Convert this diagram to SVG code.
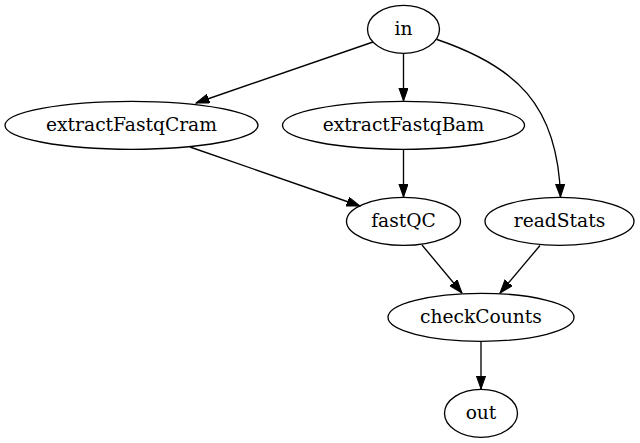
<svg xmlns="http://www.w3.org/2000/svg" width="640" height="443" viewBox="0 0 640 443">
<style>
.node ellipse{fill:none;stroke:#000;stroke-width:1.33}
.node text{font-family:"DejaVu Serif",serif;font-size:18.67px;text-anchor:middle;fill:#000}
.edge{fill:none;stroke:#000;stroke-width:1.33;marker-end:url(#ah)}
</style>
<defs>
<marker id="ah" markerUnits="userSpaceOnUse" markerWidth="14" markerHeight="10" refX="13.3" refY="4.7" orient="auto">
<path d="M0,0 L13.3,4.7 L0,9.4 z" fill="#000" stroke="#000" stroke-width="1"/>
</marker>
</defs>
<rect width="640" height="443" fill="#fff"/>
<g id="edges">
<path class="edge" d="M373,42 L196,103"/>
<path class="edge" d="M403.5,53.3 L403.5,101"/>
<path class="edge" d="M437,39.5 C515,66 558,104 560.5,197"/>
<path class="edge" d="M190,147 L360,206"/>
<path class="edge" d="M403.5,149.3 L403.5,197"/>
<path class="edge" d="M422,245 L462,293"/>
<path class="edge" d="M540,245.5 L500,293"/>
<path class="edge" d="M481,341.3 L481,389"/>
</g>
<g id="in" class="node"><ellipse cx="403.5" cy="29.3" rx="36" ry="24"/><text x="403.5" y="34.5">in</text></g>
<g id="extractFastqCram" class="node"><ellipse cx="131.5" cy="125.3" rx="126.5" ry="24"/><text x="131.5" y="130.5">extractFastqCram</text></g>
<g id="extractFastqBam" class="node"><ellipse cx="403.5" cy="125.3" rx="121" ry="24"/><text x="403.5" y="130.5">extractFastqBam</text></g>
<g id="fastQC" class="node"><ellipse cx="403.5" cy="221.3" rx="57" ry="24"/><text x="403.5" y="226.5">fastQC</text></g>
<g id="readStats" class="node"><ellipse cx="559.5" cy="221.3" rx="74.5" ry="24"/><text x="559.5" y="226.5">readStats</text></g>
<g id="checkCounts" class="node"><ellipse cx="481" cy="317.3" rx="93" ry="24"/><text x="481" y="322.5">checkCounts</text></g>
<g id="out" class="node"><ellipse cx="481" cy="413.3" rx="36.5" ry="24"/><text x="481" y="418.5">out</text></g>
</svg>
